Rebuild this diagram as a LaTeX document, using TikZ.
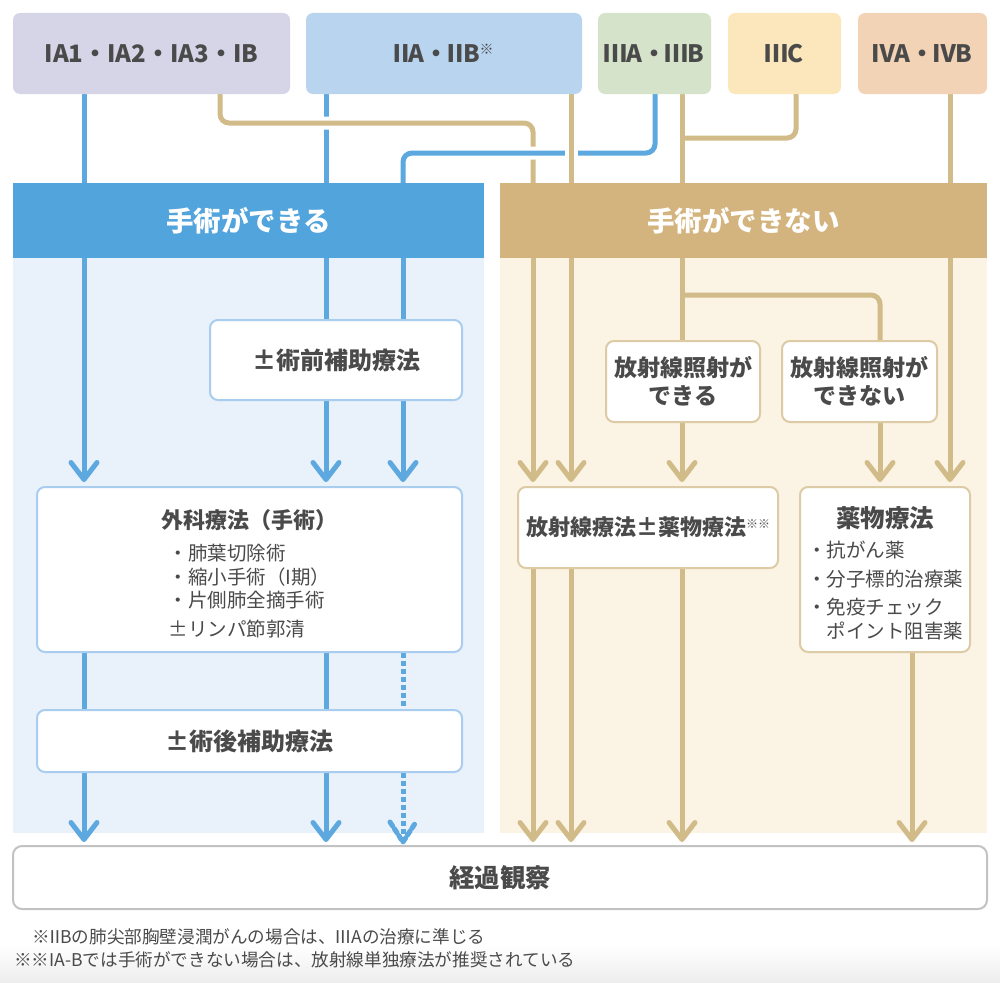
\documentclass[tikz,border=0pt]{standalone}
\usepackage{fontspec}
\setmainfont{Noto Sans CJK JP}
\usetikzlibrary{arrows.meta,backgrounds}

%colores
\definecolor{texto}{HTML}{4A4A4A}
\definecolor{etapaI}{HTML}{D6D4E7}
\definecolor{etapaII}{HTML}{B8D4EF}
\definecolor{etapaIII}{HTML}{D4E3CA}
\definecolor{etapaIIIC}{HTML}{FCE6BB}
\definecolor{etapaIV}{HTML}{F2D3B5}
\definecolor{azulfuerte}{HTML}{52A4DC}
\definecolor{lineaazul}{HTML}{5EA8E0}
\definecolor{fondoazul}{HTML}{E9F1FA}
\definecolor{bordeazul}{HTML}{A9CDEE}
\definecolor{cafefuerte}{HTML}{D3B47E}
\definecolor{lineacafe}{HTML}{D1BB89}
\definecolor{fondocafe}{HTML}{FBF3E3}
\definecolor{bordecafe}{HTML}{DDCBA5}
\definecolor{bordegris}{HTML}{C2C2C2}

\tikzset{
	etapa/.style={rounded corners=7pt, minimum height=81pt, inner sep=0pt, text=texto, font=\fontsize{24}{28}\selectfont\bfseries},
	cabeza/.style={minimum height=75pt, inner sep=0pt, text=white, font=\fontsize{27.5}{30}\selectfont\bfseries},
	caja/.style={line width=2pt, fill=white, rounded corners=8pt, inner sep=0pt, text=texto, align=center, font=\fontsize{22}{28}\selectfont\bfseries},
	cajaazul/.style={caja, draw=bordeazul},
	cajacafe/.style={caja, draw=bordecafe},
	azul/.style={draw=lineaazul, line width=5pt},
	cafe/.style={draw=lineacafe, line width=5pt},
	flecha/.style={-{Straight Barb[length=17pt,width=26pt,round]}, shorten >=4pt},
	flechab/.style={-{Straight Barb[length=17pt,width=26pt,round]}, shorten >=3pt},
	punteado/.style={dash pattern=on 5pt off 3pt},
	cruce/.style={preaction={draw=white,line width=13pt}},
	nota/.style={anchor=west, inner sep=0pt, text=texto, font=\fontsize{17.6}{20}\selectfont},
}

\newcommand{\lista}{\fontsize{19.5}{23}\selectfont\mdseries}
\newcommand{\marca}[2]{\raisebox{#1}{\fontsize{#2}{#2}\selectfont\mdseries ※}}
\newcommand{\rn}[2][.2em]{\kern-#1#2\kern-#1}

\begin{document}
\begin{tikzpicture}[x=1pt,y=-1pt]
	\useasboundingbox (0,0) rectangle (1000,982);
	%columnas
	\coordinate (c1) at (84,0);
	\coordinate (c2) at (220,0);
	\coordinate (c3) at (326,0);
	\coordinate (c4) at (403,0);
	\coordinate (c5) at (533,0);
	\coordinate (c6) at (571,0);
	\coordinate (c7) at (655,0);
	\coordinate (c8) at (682,0);
	\coordinate (c9) at (796,0);
	\coordinate (c10) at (880,0);
	\coordinate (c11) at (912,0);
	\coordinate (c12) at (950,0);
	%codos
	\coordinate (k1) at (533,123);
	\coordinate (k2) at (403,153);
	\coordinate (k3) at (682,138);
	\coordinate (k4) at (682,295);

	%%%% ETAPAS
	\node[etapa, fill=etapaI, minimum width=277pt] at (151.5,53.5) (ia) {IA1・IA2・IA3・IB};
	\node[etapa, fill=etapaII, minimum width=276pt] at (444,53.5) (iia) {\rn{Ⅱ}A・\rn{Ⅱ}B\marca{8pt}{14}};
	\node[etapa, fill=etapaIII, minimum width=113pt] at (654.5,53.5) (iiia) {\rn[.06em]{Ⅲ}A・\rn[.06em]{Ⅲ}B};
	\node[etapa, fill=etapaIIIC, minimum width=113pt] at (784.5,53.5) (iiic) {\rn[.06em]{Ⅲ}C};
	\node[etapa, fill=etapaIV, minimum width=129pt] at (922.5,53.5) (iva) {\rn[.06em]{Ⅳ}A・\rn[.06em]{Ⅳ}B};

	%%%% CABEZAS
	\node[cabeza, fill=azulfuerte, minimum width=471pt] at (248.5,220.5) (puede) {手術ができる};
	\node[cabeza, fill=cafefuerte, minimum width=487pt] at (743.5,220.5) (nopuede) {手術ができない};

	%%%% CAJAS
	\node[cajaazul, minimum width=252pt, minimum height=80pt, font=\fontsize{24}{28}\selectfont\bfseries] at (336,360) (pre) {±術前補助療法};
	\node[cajaazul, minimum width=425pt, minimum height=165pt] at (249.5,569.5) (cirugia)
		{\rule{0pt}{32pt}外科療法（手術）\\[13pt]
		{\lista\begin{tabular}{@{}l@{}}・肺葉切除術\\[0pt]・縮小手術（I期）\\[0pt]・片側肺全摘手術\\[5pt]±リンパ節郭清\end{tabular}}};
	\node[cajaazul, minimum width=425pt, minimum height=62pt, font=\fontsize{24}{28}\selectfont\bfseries] at (249.5,741) (post) {±術後補助療法};
	\node[cajacafe, minimum width=154pt, minimum height=81pt, font=\fontsize{23}{28}\selectfont\bfseries] at (683,381.5) (rtsi) {放射線照射が\\[0pt]できる};
	\node[cajacafe, minimum width=155pt, minimum height=81pt, font=\fontsize{23}{28}\selectfont\bfseries] at (859.5,381.5) (rtno) {放射線照射が\\[0pt]できない};
	\node[cajacafe, minimum width=260pt, minimum height=81pt] at (648,527.5) (rt) {放射線療法±薬物療法\marca{7pt}{12}\marca{7pt}{12}};
	\node[cajacafe, minimum width=170pt, minimum height=165pt] at (885,569.5) (farm)
		{\rule{0pt}{33pt}{\fontsize{24.5}{28}\selectfont 薬物療法}\\[11pt]
		{\lista\begin{tabular}{@{}l@{}}・抗がん薬\\[5pt]・分子標的治療薬\\[5pt]・免疫チェック\\[0pt]　ポイント阻害薬\end{tabular}}};
	\node[draw=bordegris, line width=2pt, fill=white, rounded corners=9pt, minimum width=974pt, minimum height=63pt, inner sep=0pt, text=texto, font=\fontsize{25.5}{28}\selectfont\bfseries] at (500,877.5) (obs) {経過観察};
	\coordinate (punta) at ([yshift=3pt]obs.north -| c4);

	%%%% NOTAS
	\node[nota] at (32,937) (nota1) {※\rn{Ⅱ}Bの肺尖部胸壁浸潤がんの場合は、\rn[.06em]{Ⅲ}Aの治療に準じる};
	\node[nota] at (14,960) (nota2) {※※IA-Bでは手術ができない場合は、放射線単独療法が推奨されている};

	\begin{scope}[on background layer]
		\shade[top color=white, bottom color=black!7] (0,945) rectangle (1000,982);
		\fill[fondoazul] (13,258) rectangle (484,833);
		\fill[fondocafe] (500,258) rectangle (987,833);
		%%%% LINEAS ARRIBA
		\draw[azul] (ia.south -| c1) -- (puede.north -| c1);
		\draw[azul] (iia.south -| c3) -- (puede.north -| c3);
		\draw[cafe, cruce, rounded corners=9pt] (ia.south -| c2) |- (k1) -- (nopuede.north -| c5);
		\draw[azul, cruce, rounded corners=9pt] (iiia.south -| c7) |- (k2) -- (puede.north -| c4);
		\draw[cafe, cruce] (iia.south -| c6) -- (nopuede.north -| c6);
		\draw[cafe] (iiia.south -| c8) -- (nopuede.north -| c8);
		\draw[cafe, rounded corners=9pt] (iiic.south -| c9) |- (k3);
		\draw[cafe] (iva.south -| c12) -- (nopuede.north -| c12);
		%%%% IZQUIERDA
		\draw[azul, flecha] (puede.south -| c1) -- (cirugia.north -| c1);
		\draw[azul] (puede.south -| c3) -- (pre.north -| c3);
		\draw[azul] (puede.south -| c4) -- (pre.north -| c4);
		\draw[azul, flecha] (pre.south -| c3) -- (cirugia.north -| c3);
		\draw[azul, flecha] (pre.south -| c4) -- (cirugia.north -| c4);
		\draw[azul] (cirugia.south -| c1) -- (post.north -| c1);
		\draw[azul] (cirugia.south -| c3) -- (post.north -| c3);
		\draw[azul, flechab] (post.south -| c1) -- (obs.north -| c1);
		\draw[azul, flechab] (post.south -| c3) -- (obs.north -| c3);
		\draw[azul, punteado] (cirugia.south -| c4) -- ([yshift=4pt]punta);
		\draw[azul, punteado, line cap=round, line join=round] (punta) ++(-13,-20) -- (punta) -- ++(13,-20);
		%%%% DERECHA
		\draw[cafe, flecha] (nopuede.south -| c5) -- (rt.north -| c5);
		\draw[cafe, flecha] (nopuede.south -| c6) -- (rt.north -| c6);
		\draw[cafe] (nopuede.south -| c8) -- (rtsi.north -| c8);
		\draw[cafe, rounded corners=9pt] (k4) -| (rtno.north -| c10);
		\draw[cafe, flecha] (rtsi.south -| c8) -- (rt.north -| c8);
		\draw[cafe, flecha] (rtno.south -| c10) -- (farm.north -| c10);
		\draw[cafe, flecha] (nopuede.south -| c12) -- (farm.north -| c12);
		\draw[cafe, flechab] (rt.south -| c5) -- (obs.north -| c5);
		\draw[cafe, flechab] (rt.south -| c6) -- (obs.north -| c6);
		\draw[cafe, flechab] (rt.south -| c8) -- (obs.north -| c8);
		\draw[cafe, flechab] (farm.south -| c11) -- (obs.north -| c11);
	\end{scope}
\end{tikzpicture}
\end{document}
